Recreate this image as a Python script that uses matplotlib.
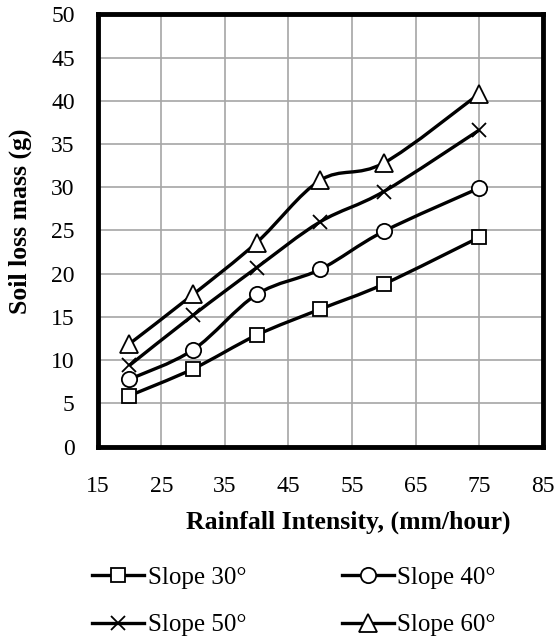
import matplotlib
matplotlib.use("Agg")
import matplotlib.pyplot as plt
from matplotlib.path import Path
from matplotlib.patches import PathPatch
from matplotlib.lines import Line2D

intensity = [20, 30, 40, 50, 60, 75]
slope30 = [5.9, 9.0, 12.9, 15.9, 18.8, 24.2]
slope40 = [7.8, 11.2, 17.6, 20.5, 24.9, 29.9]
slope50 = [9.4, 15.2, 20.7, 26.0, 29.5, 36.6]
slope60 = [11.9, 17.6, 23.6, 30.8, 32.8, 40.8]
labels = ["Slope 30°", "Slope 40°", "Slope 50°", "Slope 60°"]
series = [slope30, slope40, slope50, slope60]
markers = ["s", "o", "x", "^"]
msizes = [9.5, 11, 10, 13]

xticks = [15, 25, 35, 45, 55, 65, 75, 85]
yticks = list(range(0, 51, 5))

plt.rcParams['font.family'] = ['Liberation Serif', 'DejaVu Serif']
FS = 17
FLEG = 18
FL = 18.5

fig = plt.figure(figsize=(5.56, 6.4), dpi=100)
ax = fig.add_axes([0.1757, 0.302, 0.8003, 0.6757])


def smooth_path(x, y):
    pts = list(zip(x, y))
    n = len(pts)
    verts = [pts[0]]
    codes = [Path.MOVETO]
    for i in range(n - 1):
        p0 = pts[i - 1] if i > 0 else pts[i]
        p1 = pts[i]
        p2 = pts[i + 1]
        p3 = pts[i + 2] if i + 2 < n else pts[i + 1]
        c1 = (p1[0] + (p2[0] - p0[0]) / 6, p1[1] + (p2[1] - p0[1]) / 6)
        c2 = (p2[0] - (p3[0] - p1[0]) / 6, p2[1] - (p3[1] - p1[1]) / 6)
        verts += [c1, c2, p2]
        codes += [Path.CURVE4] * 3
    return Path(verts, codes)


handles = []
for vals, lab, m, ms in zip(series, labels, markers, msizes):
    patch = PathPatch(smooth_path(intensity, vals), facecolor='none',
                      edgecolor='black', lw=2.4, zorder=3)
    ax.add_patch(patch)
    if m == 'x':
        ax.plot(intensity, vals, linestyle='none', marker=m, ms=ms,
                mec='black', mew=1.3, zorder=4)
    else:
        ax.plot(intensity, vals, linestyle='none', marker=m, ms=ms,
                mfc='white', mec='black', mew=1.3, zorder=4)
    h = Line2D([], [], color='black', lw=2.4, marker=m, ms=ms,
               mfc='white', mec='black', mew=1.3)
    handles.append(h)

ax.set_xlim(15, 85)
ax.set_ylim(0, 50)
ax.set_xticks(xticks)
ax.set_yticks(yticks)
ax.tick_params(axis='both', length=0, labelsize=FS)
ax.tick_params(axis='x', pad=21)
ax.tick_params(axis='y', pad=16.5)
ax.grid(True, color='#a6a6a6', lw=1.2)
ax.set_axisbelow(True)
for s in ax.spines.values():
    s.set_linewidth(3.5)
    s.set_color('black')

ax.set_xlabel("Rainfall Intensity, (mm/hour)", fontsize=FL, fontweight='bold')
ax.set_ylabel("Soil loss mass (g)", fontsize=FL, fontweight='bold')
ax.xaxis.set_label_coords(0.564, -0.147)
ax.yaxis.set_label_coords(-0.148, 0.522)

order = [0, 2, 1, 3]
fig.legend(handles=[handles[i] for i in order],
           labels=[labels[i] for i in order], loc='center', ncol=2,
           bbox_to_anchor=(0.529, 0.0603), frameon=False, fontsize=FLEG,
           handlelength=2.08, handletextpad=0.15, columnspacing=3.8,
           labelspacing=1.0)

fig.savefig("out.png", dpi=100)
